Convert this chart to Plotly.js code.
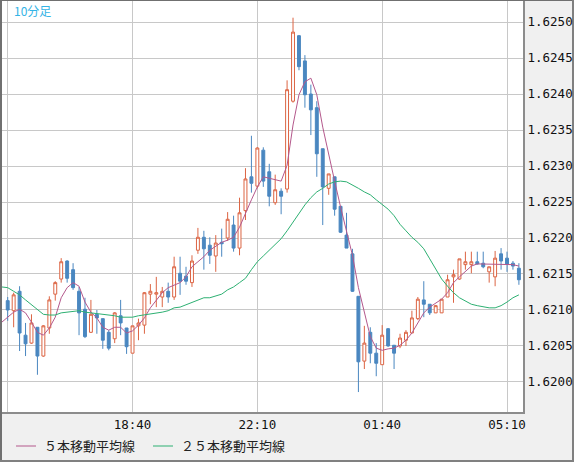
<!DOCTYPE html>
<html>
<head>
<meta charset="utf-8">
<script src="https://cdn.plot.ly/plotly-3.0.1.min.js"></script>
<style>
  html, body { margin: 0; padding: 0; background: #f0f0f0; }
  #chart { width: 574px; height: 462px; }
</style>
</head>
<body>
<div id="chart"></div>
<script>
// ---- data (10-minute bars, 15:10 -> 05:30) ----
const firstBar = '2024-03-04T15:00:00Z';   // first slot (moving averages start here)
const barMinutes = 10;

const openP = [1.62113,1.62099,1.62126,1.62065,1.62054,1.62076,1.62036,1.62075,1.62122,1.62143,
  1.62168,1.62156,1.62126,1.62101,1.62069,1.62094,1.62088,1.62069,1.62060,1.62092,
  1.62075,1.62040,1.62078,1.62079,1.62122,1.62122,1.62118,1.62126,1.62118,1.62151,
  1.62147,1.62138,1.62183,1.62201,1.62190,1.62175,1.62194,1.62200,1.62218,1.62186,
  1.62238,1.62285,1.62272,1.62322,1.62292,1.62249,1.62265,1.62268,1.62390,1.62481,
  1.62446,1.62400,1.62381,1.62324,1.62269,1.62285,1.62244,1.62204,1.62178,1.62119,
  1.62029,1.62069,1.62040,1.62024,1.62074,1.62051,1.62050,1.62058,1.62068,1.62088,
  1.62114,1.62108,1.62096,1.62096,1.62118,1.62146,1.62143,1.62163,1.62163,1.62167,
  1.62165,1.62153,1.62146,1.62178,1.62172,1.62165,1.62158];
const highP = [1.62118,1.62124,1.62133,1.62082,1.62094,1.62076,1.62079,1.62119,1.62140,1.62172,
  1.62169,1.62165,1.62132,1.62117,1.62114,1.62100,1.62088,1.62072,1.62097,1.62114,
  1.62075,1.62078,1.62088,1.62125,1.62136,1.62146,1.62132,1.62138,1.62174,1.62174,
  1.62160,1.62176,1.62214,1.62210,1.62201,1.62204,1.62213,1.62236,1.62231,1.62256,
  1.62297,1.62342,1.62326,1.62326,1.62303,1.62288,1.62269,1.62419,1.62506,1.62482,
  1.62454,1.62413,1.62390,1.62324,1.62289,1.62285,1.62244,1.62235,1.62185,1.62119,
  1.62078,1.62076,1.62054,1.62079,1.62075,1.62051,1.62067,1.62072,1.62099,1.62118,
  1.62140,1.62108,1.62107,1.62115,1.62149,1.62156,1.62171,1.62181,1.62181,1.62181,
  1.62181,1.62160,1.62182,1.62186,1.62181,1.62168,1.62165];
const lowP = [1.62085,1.62076,1.62043,1.62036,1.62053,1.62010,1.62035,1.62067,1.62113,1.62138,
  1.62138,1.62128,1.62065,1.62061,1.62068,1.62067,1.62046,1.62044,1.62054,1.62065,
  1.62039,1.62040,1.62058,1.62067,1.62108,1.62104,1.62104,1.62110,1.62114,1.62121,
  1.62135,1.62132,1.62178,1.62156,1.62164,1.62153,1.62174,1.62196,1.62181,1.62176,
  1.62225,1.62263,1.62269,1.62271,1.62244,1.62246,1.62233,1.62263,1.62388,1.62433,
  1.62381,1.62343,1.62285,1.62218,1.62260,1.62231,1.62207,1.62186,1.62125,1.61986,
  1.62018,1.62026,1.62008,1.62024,1.62049,1.62018,1.62047,1.62050,1.62068,1.62086,
  1.62090,1.62093,1.62096,1.62096,1.62118,1.62110,1.62142,1.62156,1.62151,1.62163,
  1.62158,1.62138,1.62133,1.62156,1.62153,1.62156,1.62135];
const closeP = [1.62100,1.62121,1.62068,1.62053,1.62082,1.62036,1.62078,1.62114,1.62138,1.62167,
  1.62144,1.62131,1.62096,1.62063,1.62094,1.62089,1.62058,1.62047,1.62096,1.62082,
  1.62049,1.62078,1.62082,1.62124,1.62126,1.62124,1.62126,1.62118,1.62160,1.62140,
  1.62140,1.62168,1.62201,1.62185,1.62176,1.62193,1.62192,1.62226,1.62186,1.62235,
  1.62282,1.62276,1.62325,1.62279,1.62258,1.62267,1.62258,1.62406,1.62486,1.62438,
  1.62399,1.62378,1.62317,1.62271,1.62289,1.62240,1.62208,1.62186,1.62126,1.62028,
  1.62054,1.62040,1.62026,1.62065,1.62050,1.62040,1.62061,1.62069,1.62089,1.62115,
  1.62108,1.62096,1.62106,1.62115,1.62142,1.62149,1.62171,1.62167,1.62167,1.62164,
  1.62160,1.62160,1.62172,1.62168,1.62164,1.62161,1.62142];

// moving averages (start one slot earlier, 15:00)
const ma5 = [1.62083,1.62090,1.62097,1.62101,1.62096,1.62083,1.62069,1.62065,1.62075,1.62090,
  1.62117,1.62131,1.62138,1.62133,1.62111,1.62097,1.62089,1.62076,1.62072,1.62076,
  1.62076,1.62068,1.62071,1.62079,1.62089,1.62103,1.62114,1.62124,1.62131,1.62135,
  1.62138,1.62146,1.62160,1.62167,1.62174,1.62183,1.62189,1.62194,1.62197,1.62201,
  1.62215,1.62235,1.62253,1.62271,1.62285,1.62283,1.62281,1.62279,1.62301,1.62357,
  1.62399,1.62417,1.62422,1.62399,1.62354,1.62314,1.62279,1.62243,1.62211,1.62176,
  1.62131,1.62096,1.62063,1.62047,1.62044,1.62046,1.62047,1.62051,1.62058,1.62068,
  1.62082,1.62096,1.62104,1.62110,1.62115,1.62124,1.62138,1.62146,1.62154,1.62161,
  1.62164,1.62164,1.62164,1.62164,1.62164,1.62164,1.62163,1.62161];
const ma25 = [1.62132,1.62131,1.62126,1.62121,1.62114,1.62107,1.62100,1.62094,1.62093,1.62093,
  1.62096,1.62097,1.62099,1.62099,1.62097,1.62096,1.62096,1.62094,1.62093,1.62092,
  1.62090,1.62090,1.62090,1.62092,1.62093,1.62094,1.62096,1.62097,1.62099,1.62103,
  1.62104,1.62107,1.62111,1.62114,1.62117,1.62117,1.62119,1.62122,1.62128,1.62132,
  1.62138,1.62144,1.62156,1.62167,1.62175,1.62183,1.62190,1.62199,1.62210,1.62222,
  1.62235,1.62246,1.62256,1.62264,1.62269,1.62275,1.62278,1.62279,1.62278,1.62274,
  1.62269,1.62264,1.62260,1.62253,1.62246,1.62240,1.62231,1.62219,1.62210,1.62201,
  1.62194,1.62185,1.62171,1.62156,1.62143,1.62133,1.62124,1.62117,1.62113,1.62108,
  1.62106,1.62104,1.62103,1.62103,1.62106,1.62111,1.62117,1.62121];

const tickLabels = ['', '18:40', '22:10', '01:40', '05:10'];
const tickTimes = ['2024-03-04 15:10', '2024-03-04 18:40', '2024-03-04 22:10', '2024-03-05 01:40', '2024-03-05 05:10'];
const legendNames = ['５本移動平均線', '２５本移動平均線'];
const chartLabel = '10分足';

// ---- time slots ----
const t0 = Date.parse(firstBar);
const slots = [];
for (let k = 0; k < ma5.length; k++) {
  slots.push(new Date(t0 + k * barMinutes * 60000).toISOString().slice(0, 19).replace('T', ' '));
}
const candleTimes = slots.slice(1);

// ---- colours / geometry ----
const upColor = '#dc6443';
const downColor = '#4a87c0';
const ma5Color = '#b4588c';
const ma25Color = '#2db072';
const W = 574, H = 462, ML = 2, MR = 51, MT = 1, MB = 50;
const PW = W - ML - MR, PH = H - MT - MB;
const px = x => (x - ML) / PW;
const py = y => 1 - (y - MT) / PH;

const monoFont = { family: 'DejaVu Sans Mono, Liberation Mono, monospace', size: 12.5, color: '#111' };
const jpFont = { family: 'Noto Sans CJK JP, sans-serif', size: 13, color: '#222' };

const traces = [
  {
    type: 'candlestick', x: candleTimes,
    open: openP, high: highP, low: lowP, close: closeP,
    increasing: { line: { color: upColor, width: 1 }, fillcolor: '#ffffff' },
    decreasing: { line: { color: downColor, width: 1 }, fillcolor: downColor },
    whiskerwidth: 0, hoverinfo: 'skip', showlegend: false
  },
  { type: 'scatter', mode: 'lines', x: slots, y: ma5, line: { color: ma5Color, width: 1 }, name: legendNames[0], hoverinfo: 'skip' },
  { type: 'scatter', mode: 'lines', x: slots, y: ma25, line: { color: ma25Color, width: 1 }, name: legendNames[1], hoverinfo: 'skip' }
];

const xStart = new Date(t0 + 0.04 * barMinutes * 60000).toISOString().slice(0, 19).replace('T', ' ');
const xEnd = new Date(t0 + 87.69 * barMinutes * 60000).toISOString().slice(0, 19).replace('T', ' ');

const layout = {
  width: W, height: H,
  margin: { l: ML, r: MR, t: MT, b: MB, pad: 0 },
  paper_bgcolor: '#f0f0f0', plot_bgcolor: '#ffffff',
  showlegend: false,
  boxgap: 0.3,
  xaxis: {
    type: 'date', range: [xStart, xEnd],
    tickmode: 'array', tickvals: tickTimes, ticktext: tickLabels,
    showgrid: true, gridcolor: '#c8c8c8', gridwidth: 1,
    zeroline: false, ticks: '', tickfont: monoFont,
    showline: true, linecolor: '#8c8c8c', linewidth: 2,
    rangeslider: { visible: false }, fixedrange: true
  },
  yaxis: {
    side: 'right', range: [1.619583, 1.625292],
    tick0: 1.62, dtick: 0.0005, tickformat: '.4f',
    showgrid: true, gridcolor: '#c8c8c8', gridwidth: 1,
    zeroline: false, ticks: '', tickfont: monoFont,
    showline: true, linecolor: '#8c8c8c', linewidth: 2, fixedrange: true
  },
  shapes: [
    // outer frame
    { type: 'rect', layer: 'below', xref: 'paper', yref: 'paper', x0: px(0), x1: px(2), y0: py(0), y1: py(H), fillcolor: '#707070', line: { width: 0 } },
    { type: 'rect', layer: 'below', xref: 'paper', yref: 'paper', x0: px(0), x1: px(W), y0: py(0), y1: py(1), fillcolor: '#707070', line: { width: 0 } },
    { type: 'rect', layer: 'below', xref: 'paper', yref: 'paper', x0: px(572), x1: px(W), y0: py(0), y1: py(H), fillcolor: '#808080', line: { width: 0 } },
    { type: 'rect', layer: 'below', xref: 'paper', yref: 'paper', x0: px(0), x1: px(W), y0: py(460), y1: py(H), fillcolor: '#808080', line: { width: 0 } },
    // legend samples
    { type: 'line', xref: 'paper', yref: 'paper', x0: px(16), x1: px(36), y0: py(446), y1: py(446), line: { color: ma5Color, width: 1 } },
    { type: 'line', xref: 'paper', yref: 'paper', x0: px(153), x1: px(173), y0: py(446), y1: py(446), line: { color: ma25Color, width: 1 } }
  ],
  annotations: [
    { xref: 'paper', yref: 'paper', x: px(12), y: py(11), xanchor: 'left', yanchor: 'middle', showarrow: false,
      text: chartLabel, font: { family: 'Noto Sans CJK JP, sans-serif', size: 12, color: '#33b4e6' } },
    { xref: 'paper', yref: 'paper', x: px(42), y: py(446), xanchor: 'left', yanchor: 'middle', showarrow: false,
      text: legendNames[0], font: jpFont },
    { xref: 'paper', yref: 'paper', x: px(179), y: py(446), xanchor: 'left', yanchor: 'middle', showarrow: false,
      text: legendNames[1], font: jpFont }
  ]
};

Plotly.newPlot('chart', traces, layout, { staticPlot: true, displayModeBar: false });
</script>
</body>
</html>
